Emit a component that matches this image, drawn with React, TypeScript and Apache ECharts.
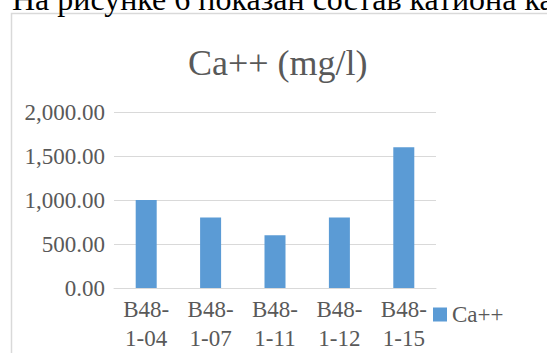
import React, { useEffect, useRef } from "react";
import * as echarts from "echarts";

const heading = "На рисунке 6 показан состав катиона ка";
const chartTitle = "Ca++ (mg/l)";
const seriesName = "Ca++";
const categories = ["B48-1-04", "B48-1-07", "B48-1-11", "B48-1-12", "B48-1-15"];
const values = [1000, 800, 600, 800, 1600];
const yMin = 0;
const yMax = 2000;
const yInterval = 500;

const FONT = '"Liberation Serif", "Times New Roman", serif';
const GREY = "#595959";

export default function App() {
  const ref = useRef<HTMLDivElement>(null);
  useEffect(() => {
    if (!ref.current) return;
    const chart = echarts.init(ref.current, null, { renderer: "svg" });
    chart.setOption({
      animation: false,
      backgroundColor: "#ffffff",
      textStyle: { fontFamily: FONT },
      title: {
        text: chartTitle,
        left: 188,
        top: 45,
        padding: 0,
        textStyle: { fontFamily: FONT, fontSize: 36, fontWeight: "normal", color: GREY },
      },
      legend: {
        data: [seriesName],
        left: 433,
        top: 303,
        padding: 0,
        itemWidth: 14,
        itemHeight: 14,
        icon: "rect",
        textStyle: { fontFamily: FONT, fontSize: 23, color: GREY },
      },
      graphic: [
        {
          type: "rect",
          shape: { x: 11.5, y: 13.5, width: 700, height: 500 },
          style: { fill: "none", stroke: "#d9d9d9", lineWidth: 1.5 },
          silent: true,
          z: 0,
        },
        {
          type: "text",
          x: 12,
          y: -1.3,
          style: {
            text: heading,
            font: '32px "Liberation Serif"',
            fill: "#000000",
            verticalAlign: "middle",
            align: "left",
          },
          silent: true,
        },
      ],
      grid: { left: 114, right: 111, top: 112, bottom: 61.3, containLabel: false },
      xAxis: {
        type: "category",
        data: categories,
        axisLine: { lineStyle: { color: "#d9d9d9", width: 1 } },
        axisTick: { show: false },
        axisLabel: {
          interval: 0,
          margin: 7,
          fontFamily: FONT,
          fontSize: 23,
          lineHeight: 29,
          color: GREY,
          formatter: (v: string) => v.replace(/^(B48-)/, "$1\n"),
        },
      },
      yAxis: {
        type: "value",
        min: yMin,
        max: yMax,
        interval: yInterval,
        axisLine: { show: false },
        axisTick: { show: false },
        splitLine: { lineStyle: { color: "#d9d9d9", width: 1 } },
        axisLabel: {
          margin: 9,
          fontFamily: FONT,
          fontSize: 23,
          color: GREY,
          formatter: (v: number) =>
            v.toLocaleString("en-US", { minimumFractionDigits: 2, maximumFractionDigits: 2 }),
        },
      },
      series: [
        {
          name: seriesName,
          type: "bar",
          data: values,
          barWidth: 21,
          itemStyle: { color: "#5b9bd5" },
        },
      ],
    });
    return () => chart.dispose();
  }, []);
  return (
    <div
      ref={ref}
      style={{ position: "fixed", left: 0, top: 0, width: 547, height: 353 }}
    />
  );
}
